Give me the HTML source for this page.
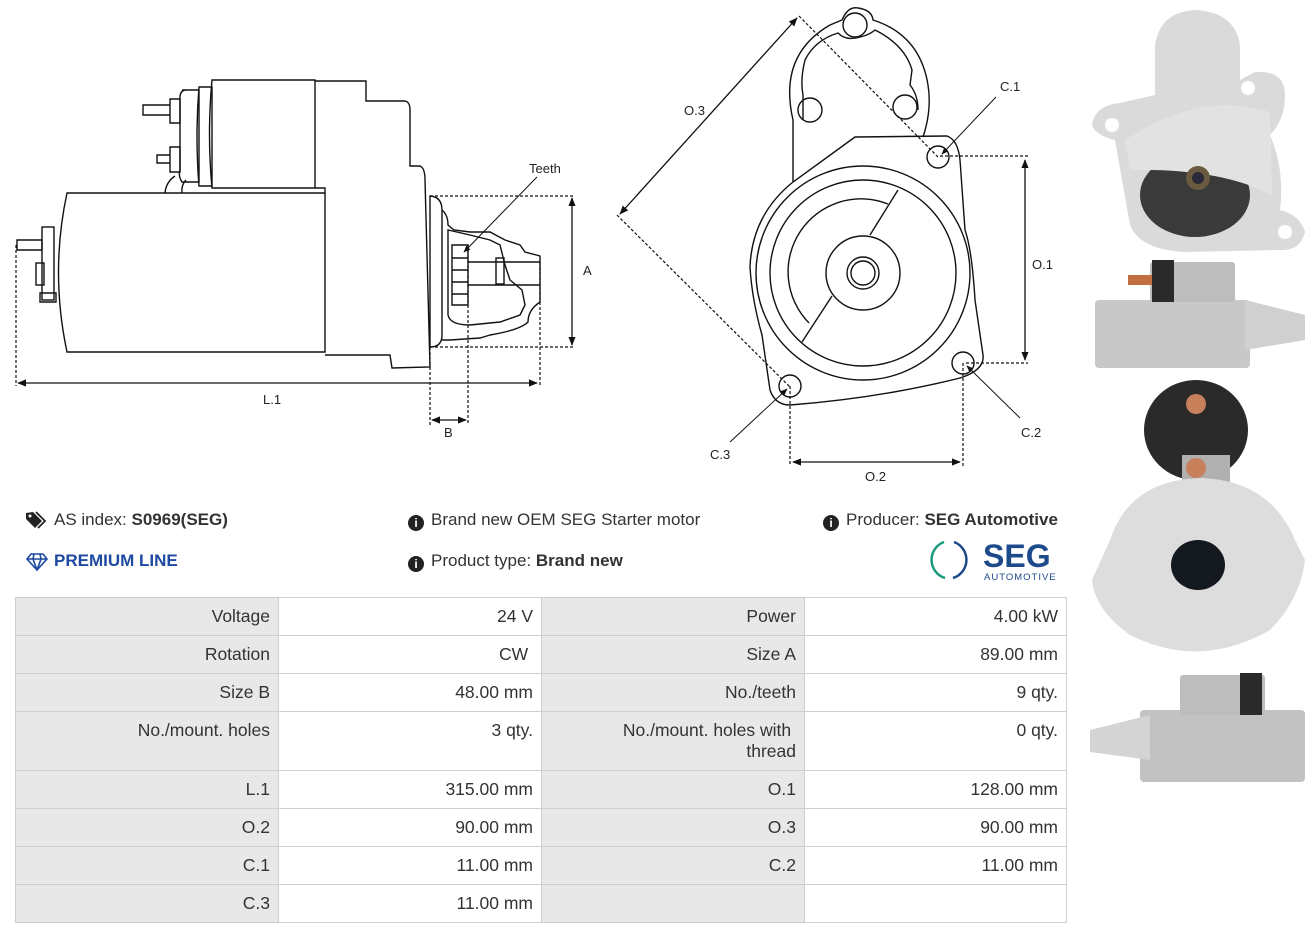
<!DOCTYPE html>
<html><head><meta charset="utf-8">
<style>
*{margin:0;padding:0;box-sizing:border-box}
body{width:1316px;height:936px;background:#fff;position:relative;overflow:hidden;font-family:"Liberation Sans",sans-serif;color:#333}
.t{position:absolute;font-size:17px;color:#333;white-space:nowrap}
.c{position:absolute;border:1.5px solid #cfcfcf;font-size:17.5px;text-align:right;padding:8px 8px 0 0;color:#333;line-height:21px}
.g{background:#e8e8e8}
.w{background:#fff}
</style></head><body>
<svg width="1316" height="936" style="position:absolute;left:0;top:0" fill="none" stroke="#111" stroke-width="1.4">
<defs>
<marker id="ar" viewBox="0 0 10 10" refX="9" refY="5" markerWidth="7" markerHeight="7" orient="auto-start-reverse"><path d="M0,1 L10,5 L0,9 z" fill="#111" stroke="none"/></marker>
</defs>
<!-- LEFT DRAWING -->
<path d="M67,193 L325,193 L325,352 L67,352 Q50,272 67,193 Z"/>
<rect x="42" y="227" width="12" height="73"/>
<rect x="36" y="263" width="8" height="22"/>
<path d="M17,240 h25 v10 h-25 z M40,293 h16 v9 h-16 z"/>
<path d="M212,80 L315,80 L315,188 L212,188 Q207,134 212,80 Z"/>
<path d="M199,87 L212,87 L212,186 L199,186 Q195,136 199,87 Z"/>
<path d="M182,90 L199,90 L199,182 L182,182 Q178,176 180,170 L180,98 Q180,90 186,90"/>
<path d="M143,105 h27 v10 h-27 z M170,99 h10 v24 h-10 z M157,155 h13 v8 h-13 z M170,147 h10 v25 h-10 z"/>
<path d="M165,193 Q166,182 175,176 M182,193 Q181,185 186,180"/>
<path d="M315,81 L366,81 L366,101 L405,101 Q410,102 410,110 L410,166 L420,166 Q425,168 425,180 L430,367 L392,368 L390,355 L325,355 M315,188 L325,188 L325,193"/>
<path d="M430,196 Q442,197 442,210 L442,335 Q442,347 430,347 Z"/>
<path d="M442,210 Q448,215 448,225 L454,230 L470,232 L490,232 L505,240 L520,245 L525,252 L540,256 L540,302 Q528,310 528,322 Q520,330 490,335 L480,338 L450,340 L442,340"/>
<path d="M448,230 L448,315 Q450,325 470,325 L500,322 L520,315 L525,305 L522,290 L510,280 L505,265 L500,245 L490,240 L470,235 Z"/>
<path d="M452,245 h16 v60 h-16 z M452,258 h16 M452,270 h16 M452,282 h16 M452,294 h16"/>
<path d="M468,262 L540,262 M468,285 L540,285"/>
<rect x="496" y="258" width="8" height="26"/>
<g stroke-dasharray="3,2" stroke-width="1.2">
<path d="M430,196 L575,196 M430,347 L575,347 M16,245 L16,386 M540,262 L540,386 M430,347 L430,425 M468,245 L468,425"/>
</g>
<path d="M572,198 L572,345" marker-start="url(#ar)" marker-end="url(#ar)" stroke-width="1.3"/>
<path d="M18,383 L537,383" marker-start="url(#ar)" marker-end="url(#ar)" stroke-width="1.3"/>
<path d="M432,420 L466,420" marker-start="url(#ar)" marker-end="url(#ar)" stroke-width="1.3"/>
<path d="M537,177 L464,252" marker-end="url(#ar)" stroke-width="1"/>
<!-- RIGHT DRAWING -->
<path d="M793,182 L793,120 Q778,55 830,25 L842,20 Q848,6 858,8 Q872,10 873,20 Q920,35 928,85 Q932,110 923,137"/>
<path d="M803,120 L803,95 Q800,80 805,60 Q815,40 838,33 Q845,40 855,38 Q868,36 875,30 Q905,45 912,70 L910,85 Q918,95 918,110"/>
<circle cx="855" cy="25" r="12"/><circle cx="810" cy="110" r="12"/><circle cx="905" cy="107" r="12"/>
<path d="M855,137 L947,136 Q958,140 960,160 L965,230 Q972,250 975,300 L983,355 Q985,370 960,378 Q880,398 790,405 Q775,405 770,390 L762,335 Q752,300 750,267 Q752,215 793,182 Z"/>
<circle cx="863" cy="273" r="107"/><circle cx="863" cy="273" r="93"/>
<path d="M888,204 A73,73 0 0 0 809,323 M898,190 L870,235 M832,296 L802,342"/>
<circle cx="863" cy="273" r="37"/><circle cx="863" cy="273" r="16"/><circle cx="863" cy="273" r="12"/>
<circle cx="938" cy="157" r="11"/><circle cx="963" cy="363" r="11"/><circle cx="790" cy="386" r="11"/>
<g stroke-dasharray="3,2" stroke-width="1.2">
<path d="M940,156 L1028,156 M966,363 L1028,363 M790,386 L790,466 M963,363 L963,466 M799,16 L938,157 M617,215 L790,387"/>
</g>
<path d="M1025,160 L1025,360" marker-start="url(#ar)" marker-end="url(#ar)" stroke-width="1.3"/>
<path d="M793,462 L960,462" marker-start="url(#ar)" marker-end="url(#ar)" stroke-width="1.3"/>
<path d="M797,18 L620,214" marker-start="url(#ar)" marker-end="url(#ar)" stroke-width="1.3"/>
<path d="M996,97 L942,154" marker-end="url(#ar)" stroke-width="1"/>
<path d="M1020,418 L967,366" marker-end="url(#ar)" stroke-width="1"/>
<path d="M730,442 L787,389" marker-end="url(#ar)" stroke-width="1"/>
<g fill="#222" stroke="none" font-family="Liberation Sans,sans-serif" font-size="13">
<text x="529" y="173">Teeth</text><text x="583" y="275">A</text><text x="263" y="404">L.1</text><text x="444" y="437">B</text>
<text x="684" y="115">O.3</text><text x="1000" y="91">C.1</text><text x="1032" y="269">O.1</text><text x="1021" y="437">C.2</text><text x="710" y="459">C.3</text><text x="865" y="481">O.2</text>
</g>
<!-- PHOTOS -->
<g stroke="none">
<path d="M1155,95 L1155,45 Q1160,12 1195,10 Q1235,12 1240,45 L1240,80 L1255,72 Q1285,70 1285,95 Q1285,120 1270,135 Q1285,170 1280,210 Q1300,215 1305,232 Q1300,252 1278,250 L1185,252 Q1140,250 1130,225 L1115,140 Q1095,135 1092,125 Q1095,105 1120,103 Z" fill="#dadada"/>
<ellipse cx="1195" cy="195" rx="55" ry="42" fill="#3a3a3a"/>
<path d="M1125,140 Q1200,90 1270,112 L1272,195 Q1220,168 1130,170 Z" fill="#e2e2e2"/>
<circle cx="1112" cy="125" r="7" fill="#fff"/><circle cx="1248" cy="88" r="7" fill="#fff"/><circle cx="1285" cy="232" r="7" fill="#fff"/>
<circle cx="1198" cy="178" r="12" fill="#6a5a40"/><circle cx="1198" cy="178" r="6" fill="#2a2a3a"/>
<rect x="1095" y="300" width="155" height="68" rx="4" fill="#c8c8c8"/>
<rect x="1150" y="262" width="85" height="40" rx="3" fill="#bdbdbd"/>
<rect x="1152" y="260" width="22" height="42" fill="#2a2a2a"/>
<path d="M1245,300 L1305,315 L1305,340 L1245,350 Z" fill="#d0d0d0"/>
<rect x="1128" y="275" width="24" height="10" fill="#c07040"/>
<ellipse cx="1196" cy="430" rx="52" ry="50" fill="#2a2a2a"/>
<rect x="1182" y="455" width="48" height="28" fill="#b0b0b0"/>
<circle cx="1196" cy="404" r="10" fill="#c8805a"/><circle cx="1196" cy="468" r="10" fill="#c8805a"/>
<path d="M1110,540 Q1130,480 1200,478 Q1270,480 1295,540 L1305,560 Q1300,600 1270,630 Q1200,670 1130,635 Q1095,610 1092,580 Z" fill="#dddddd"/>
<ellipse cx="1198" cy="565" rx="27" ry="25" fill="#14181f"/>
<rect x="1140" y="710" width="165" height="72" rx="4" fill="#c2c2c2"/>
<rect x="1180" y="675" width="85" height="40" rx="3" fill="#bdbdbd"/>
<rect x="1240" y="673" width="22" height="42" fill="#2a2a2a"/>
<path d="M1090,730 L1150,715 L1150,760 L1090,752 Z" fill="#d4d4d4"/>
</g>
</svg>

<svg style="position:absolute;left:26px;top:511px" width="20" height="18" viewBox="0 0 20 18"><path d="M0,2 L0,8 L9,17 L16,10 L7,1 Z" fill="#222"/><circle cx="4" cy="5" r="1.5" fill="#fff"/><path d="M10,1 L19,10 L12,17" stroke="#222" stroke-width="1.8" fill="none"/></svg>
<div class="t" style="left:54px;top:510px">AS index: <b>S0969(SEG)</b></div>
<svg style="position:absolute;left:26px;top:553px" width="22" height="18" viewBox="0 0 22 18"><path d="M5,1 L17,1 L21,6 L11,17 L1,6 Z M1,6 L21,6 M8,1 L7,6 L11,17 L15,6 L14,1" stroke="#1d4aa0" stroke-width="1.6" fill="none"/></svg>
<div class="t" style="left:54px;top:551px;color:#1d4aa0;font-weight:bold">PREMIUM LINE</div>
<div class="t" style="left:408px;top:510px"><span style="display:inline-block;width:16px;height:16px;border-radius:50%;background:#222;color:#fff;font-size:12px;text-align:center;line-height:16px;font-weight:bold;vertical-align:-2px;margin-right:7px">i</span>Brand new OEM SEG Starter motor</div>
<div class="t" style="left:408px;top:551px"><span style="display:inline-block;width:16px;height:16px;border-radius:50%;background:#222;color:#fff;font-size:12px;text-align:center;line-height:16px;font-weight:bold;vertical-align:-2px;margin-right:7px">i</span>Product type: <b>Brand new</b></div>
<div class="t" style="left:823px;top:510px"><span style="display:inline-block;width:16px;height:16px;border-radius:50%;background:#222;color:#fff;font-size:12px;text-align:center;line-height:16px;font-weight:bold;vertical-align:-2px;margin-right:7px">i</span>Producer: <b>SEG Automotive</b></div>
<svg style="position:absolute;left:928px;top:537px" width="140" height="46"><path d="M16,5 A19,19 0 0 0 17,41" stroke="#1a9a7a" stroke-width="2.5" fill="none"/><path d="M26,5 A19,19 0 0 1 25,41" stroke="#1d4a8a" stroke-width="2.5" fill="none"/><text x="55" y="30" font-family="Liberation Sans,sans-serif" font-weight="bold" font-size="32" fill="#1d4a8a">SEG</text><text x="56" y="43" font-family="Liberation Sans,sans-serif" font-size="9.5" fill="#1d4a8a" letter-spacing="1">AUTOMOTIVE</text></svg>

<div class="c g" style="left:15px;top:597px;width:264px;height:39px">Voltage</div>
<div class="c w" style="left:278px;top:597px;width:264px;height:39px">24 V</div>
<div class="c g" style="left:541px;top:597px;width:264px;height:39px">Power</div>
<div class="c w" style="left:804px;top:597px;width:263px;height:39px">4.00 kW</div>
<div class="c g" style="left:15px;top:635px;width:264px;height:39px">Rotation</div>
<div class="c w" style="left:278px;top:635px;width:264px;height:39px">CW&nbsp;</div>
<div class="c g" style="left:541px;top:635px;width:264px;height:39px">Size A</div>
<div class="c w" style="left:804px;top:635px;width:263px;height:39px">89.00 mm</div>
<div class="c g" style="left:15px;top:673px;width:264px;height:39px">Size B</div>
<div class="c w" style="left:278px;top:673px;width:264px;height:39px">48.00 mm</div>
<div class="c g" style="left:541px;top:673px;width:264px;height:39px">No./teeth</div>
<div class="c w" style="left:804px;top:673px;width:263px;height:39px">9 qty.</div>
<div class="c g" style="left:15px;top:711px;width:264px;height:60px">No./mount. holes</div>
<div class="c w" style="left:278px;top:711px;width:264px;height:60px">3 qty.</div>
<div class="c g" style="left:541px;top:711px;width:264px;height:60px">No./mount. holes with&nbsp;<br>thread</div>
<div class="c w" style="left:804px;top:711px;width:263px;height:60px">0 qty.</div>
<div class="c g" style="left:15px;top:770px;width:264px;height:39px">L.1</div>
<div class="c w" style="left:278px;top:770px;width:264px;height:39px">315.00 mm</div>
<div class="c g" style="left:541px;top:770px;width:264px;height:39px">O.1</div>
<div class="c w" style="left:804px;top:770px;width:263px;height:39px">128.00 mm</div>
<div class="c g" style="left:15px;top:808px;width:264px;height:39px">O.2</div>
<div class="c w" style="left:278px;top:808px;width:264px;height:39px">90.00 mm</div>
<div class="c g" style="left:541px;top:808px;width:264px;height:39px">O.3</div>
<div class="c w" style="left:804px;top:808px;width:263px;height:39px">90.00 mm</div>
<div class="c g" style="left:15px;top:846px;width:264px;height:39px">C.1</div>
<div class="c w" style="left:278px;top:846px;width:264px;height:39px">11.00 mm</div>
<div class="c g" style="left:541px;top:846px;width:264px;height:39px">C.2</div>
<div class="c w" style="left:804px;top:846px;width:263px;height:39px">11.00 mm</div>
<div class="c g" style="left:15px;top:884px;width:264px;height:39px">C.3</div>
<div class="c w" style="left:278px;top:884px;width:264px;height:39px">11.00 mm</div>
<div class="c g" style="left:541px;top:884px;width:264px;height:39px"></div>
<div class="c w" style="left:804px;top:884px;width:263px;height:39px"></div>
</body></html>
